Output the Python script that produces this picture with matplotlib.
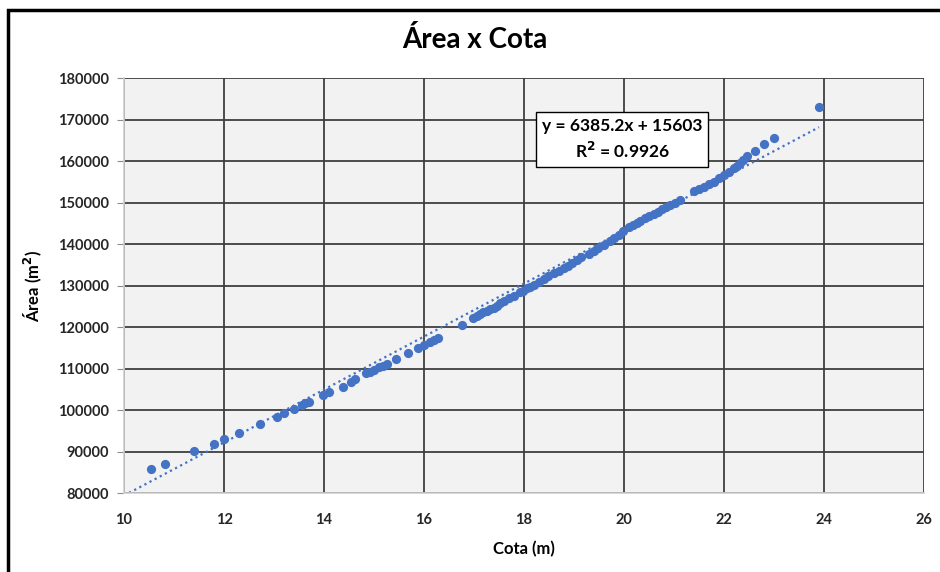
import matplotlib.pyplot as plt
from matplotlib.patches import Rectangle

# cota (m) x área (m²)
cota = [10.54, 10.82, 11.40, 11.80, 12.00, 12.29, 12.72, 13.06, 13.19, 13.39,
        13.55, 13.62, 13.69, 13.97, 14.09, 14.37, 14.53, 14.62, 14.83, 14.91,
        14.99, 15.09, 15.17, 15.25, 15.43, 15.67, 15.88, 15.99, 16.12, 16.20,
        16.27, 16.75, 16.99, 17.05, 17.12, 17.18, 17.25, 17.32, 17.39, 17.45,
        17.52, 17.60, 17.69, 17.80, 17.92, 17.98, 18.05, 18.12, 18.19, 18.29,
        18.39, 18.49, 18.59, 18.69, 18.79, 18.87, 18.95, 19.05, 19.15, 19.29,
        19.39, 19.49, 19.60, 19.72, 19.80, 19.89, 19.99, 20.09, 20.17, 20.25,
        20.33, 20.42, 20.50, 20.59, 20.67, 20.75, 20.83, 20.92, 21.02, 21.12,
        21.39, 21.49, 21.59, 21.69, 21.79, 21.89, 21.99, 22.09, 22.19, 22.25,
        22.32, 22.38, 22.45, 22.62, 22.80, 23.00, 23.90]
area = [85900, 87100, 90100, 91900, 93100, 94650, 96700, 98460, 99350, 100310,
        101350, 101750, 102120, 103690, 104290, 105690, 106700, 107470, 108870, 109300,
        109710, 110360, 110750, 111160, 112360, 113880, 115130, 115660, 116530, 116950,
        117420, 120560, 122240, 122700, 123210, 123600, 124000, 124400, 124770, 125250,
        125740, 126300, 126940, 127650, 128390, 128850, 129350, 129750, 130190, 130850,
        131570, 132300, 133010, 133600, 134220, 134800, 135420, 136200, 137010, 137660,
        138350, 139040, 139950, 140870, 141550, 142240, 143250, 144240, 144700, 145200,
        145700, 146270, 146800, 147300, 147900, 148510, 149000, 149470, 150050, 150680,
        152920, 153400, 153880, 154500, 155090, 155900, 156700, 157500, 158310, 158950,
        159590, 160400, 161280, 162480, 164100, 165690, 173010]

# linear trend as reported on the chart
SLOPE = 6385.2
INTERCEPT = 15603
R2 = 0.9926

x_ticks = list(range(10, 27, 2))
y_ticks = list(range(80000, 180001, 10000))

BLUE = "#4472C4"
FONT = ["Lato", "DejaVu Sans"]

fig = plt.figure(figsize=(9.4, 5.72), dpi=100)
fig.patches.append(Rectangle((8 / 940, -0.1), 2, 1.1 - 10 / 572, transform=fig.transFigure,
                             fill=False, edgecolor="black", linewidth=2.5))

ax = fig.add_axes([124 / 940, 1 - 493.3 / 572, 800 / 940, 415 / 572])
ax.set_facecolor("#F2F2F2")

ax.scatter(cota, area, s=44, color=BLUE, zorder=3, linewidths=0)

trend_x = [x_ticks[0], max(cota)]
trend_y = [SLOPE * v + INTERCEPT for v in trend_x]
ax.plot(trend_x, trend_y, color=BLUE, linestyle=(0, (1, 1.6)), linewidth=1.6, zorder=2)

ax.set_xlim(x_ticks[0], x_ticks[-1])
ax.set_ylim(y_ticks[0], y_ticks[-1])
ax.set_xticks(x_ticks)
ax.set_yticks(y_ticks)
ax.grid(True, color="#3F3F3F", linewidth=1.3, zorder=1)
ax.set_axisbelow(True)

for side in ["top", "right"]:
    ax.spines[side].set_visible(False)
for side in ["left", "bottom"]:
    ax.spines[side].set_color("#D0D0D0")
    ax.spines[side].set_linewidth(1.2)

ax.tick_params(axis="y", direction="out", length=5, color="#8C8C8C", pad=6)
ax.tick_params(axis="x", length=0, pad=14)
for lbl in ax.get_xticklabels() + ax.get_yticklabels():
    lbl.set_family(FONT)
    lbl.set_fontweight("bold")
    lbl.set_fontsize(10.5)
    lbl.set_color("#262626")

ax.set_xlabel("Cota (m)", family=FONT, fontweight="bold", fontsize=12, labelpad=10)
ax.set_ylabel("Área (m$^\\mathbf{2}$)", family=FONT, fontweight="bold", fontsize=12, labelpad=10)

fig.text(475 / 940, 1 - 40 / 572, "Área x Cota", ha="center", va="center",
         family=FONT, fontweight="bold", fontsize=20)

ax.text(19.96, 165250, f"y = {SLOPE}x + {INTERCEPT}\nR$^\\mathbf{{2}}$ = {R2}",
        ha="center", va="center", family=FONT, fontweight="bold", fontsize=12.5,
        linespacing=1.45, zorder=5,
        bbox=dict(boxstyle="square,pad=0.35", facecolor="white", edgecolor="black", linewidth=1))

fig.savefig("out.png", dpi=100)
